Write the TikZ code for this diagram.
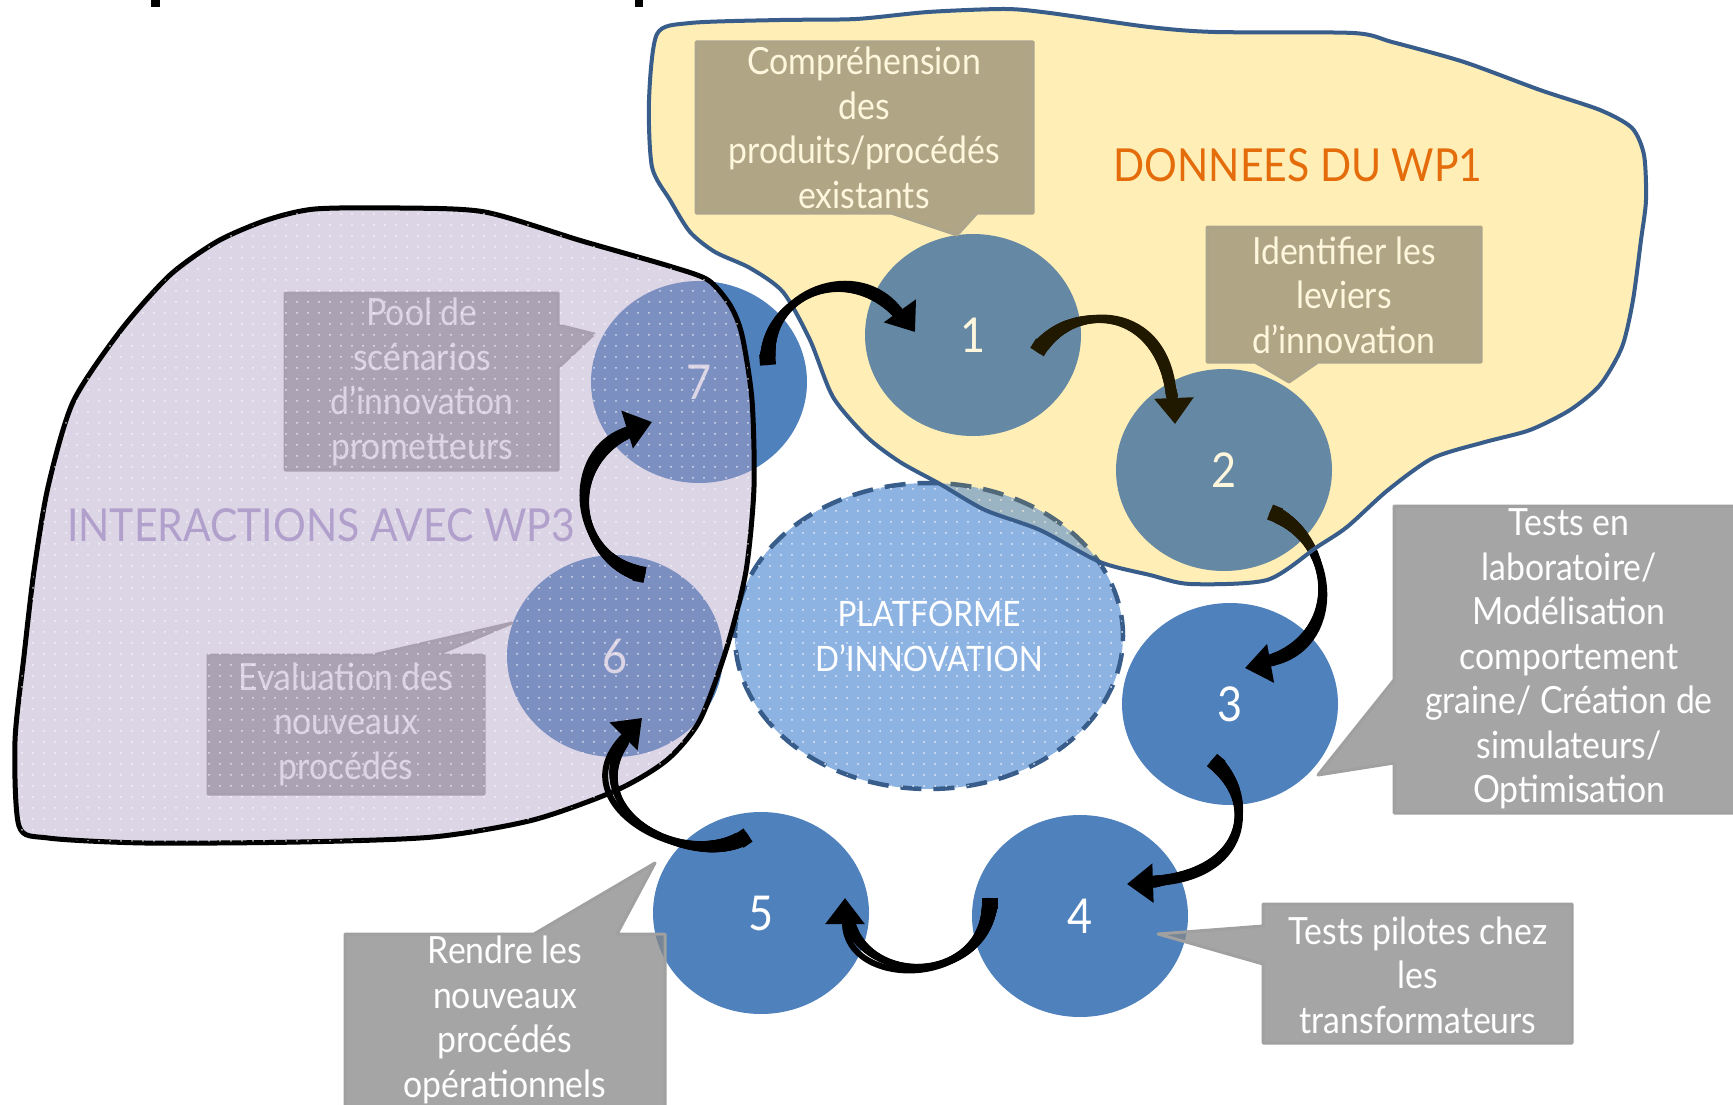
\documentclass[tikz,border=0pt]{standalone}
\usepackage{fontspec}
\newfontfamily\lbl{Lato}[FakeStretch=0.9]
\usetikzlibrary{arrows.meta,shapes.geometric,patterns,decorations.markings,calc}

\definecolor{circblue}{HTML}{4F81BD}
\definecolor{platblue}{HTML}{8DB3E2}
\definecolor{platedge}{HTML}{385D8A}
\definecolor{blobyellow}{HTML}{FFC000}
\definecolor{blobbase}{HTML}{FFF5D0}
\definecolor{blobpurple}{HTML}{B3A2C7}
\definecolor{wpthree}{HTML}{B1A0CC}
\definecolor{wpone}{HTML}{E46C0A}
\definecolor{calloutgrey}{HTML}{878787}
\definecolor{calloutedge}{HTML}{A0A0A0}

% sparse dot texture for the platform and the WP3 area
\pgfdeclarepatternformonly{sparsedots}{\pgfqpoint{-1pt}{-1pt}}{\pgfqpoint{1pt}{1pt}}{\pgfqpoint{11pt}{11pt}}{%
  \pgfpathcircle{\pgfqpoint{0pt}{0pt}}{1pt}\pgfusepath{fill}}

% outline of the WP1 area
\def\wponepath{plot[smooth cycle, tension=0.45] coordinates {
  (657,34) (690,23) (780,20) (856,19) (928,12) (1005,9) (1050,13) (1149,27) (1215,32)
  (1353,33) (1392,42) (1464,62) (1540,90) (1600,110) (1632,128) (1644,155) (1646,200)
  (1641,240) (1633,300) (1622,347) (1600,385) (1570,410) (1530,430) (1485,442) (1433,458)
  (1388,490) (1347,527) (1317,547) (1267,580) (1190,584) (1150,575) (1100,562) (1040,530)
  (985,510) (940,484) (900,462) (867,437) (833,397) (810,340) (783,292) (750,268)
  (715,252) (690,232) (670,200) (652,167) (649,100)}}

\begin{document}
\begin{tikzpicture}[x=1pt,y=-1pt,
  stepdisc/.style={ellipse, fill=circblue, minimum width=216pt, minimum height=202pt,
    inner sep=0pt, text=white, font=\lbl\fontsize{48}{48}\selectfont},
  callout/.style={fill=calloutgrey, fill opacity=0.75, draw=calloutedge, line width=3pt, line join=round},
  callouttext/.style={text=white, align=center, inner sep=0pt,
    font=\lbl\fontsize{37.5}{44.5}\selectfont},
  % curved arrow: thin core plus a swelling body (thick tail, narrow middle)
  flow/.style={line width=6pt, -{Triangle[width=38pt,length=26pt]},
    postaction={decorate, decoration={markings,
      mark=between positions 0.045 and 0.87 step 1.2pt with {%
        \pgfmathsetmacro\arwt{\pgfkeysvalueof{/pgf/decoration/mark info/distance from start}/\pgfdecoratedpathlength}%
        \pgfmathsetmacro\arwr{8.5-0.5*\arwt-5*sin(180*\arwt)}%
        \fill (0,0) circle (\arwr pt);}}}},
  flowtail/.style={line width=16pt},
  bloblabel/.style={inner sep=0pt}
]
\useasboundingbox (0,0) rectangle (1733,1105);
\fill[white] (0,0) rectangle (1733,1105);

% fragments of the heading above the frame
\fill[black] (151,0) rectangle (160,7);
\fill[black] (635,0) rectangle (643,7);

% WP1 area, ground tint
\fill[blobbase] \wponepath;

% the seven steps
\node[stepdisc] (c1) at (973,335) {1};
\node[stepdisc] (c2) at (1224,470) {2};
\node[stepdisc] (c3) at (1230,704) {3};
\node[stepdisc] (c4) at (1080,916) {4};
\node[stepdisc] (c5) at (761,913) {5};
\node[stepdisc] (c6) at (615,656) {6};
\node[stepdisc] (c7) at (699,382) {7};

% innovation platform
\node[ellipse, fill=platblue, draw=platedge, line width=4.5pt, dash pattern=on 21pt off 12pt,
  minimum width=388pt, minimum height=306pt, inner sep=0pt, text=white, align=center,
  font=\lbl\fontsize{35}{45}\selectfont,
  postaction={pattern=sparsedots, pattern color=white!75!platblue}]
  (plat) at (929,636) {PLATFORME\\D’INNOVATION};

% callouts
\draw[callout] (696,42) -- (1033,42) -- (1033,213) -- (977,213) -- (957,235) -- (891,213) -- (696,213) -- cycle;
\node[callouttext] (t1) at (864,128) {Compréhension\\des\\produits/procédés\\existants};

\draw[callout] (1207,227) -- (1481,227) -- (1481,362) -- (1318,362) -- (1289,382) -- (1255,362) -- (1207,362) -- cycle;
\node[callouttext] (t2) at (1344,295) {Identifier les\\leviers\\d’innovation};

\draw[callout] (1394,506) -- (1745,506) -- (1745,813) -- (1394,813) -- (1394,763) -- (1318,775) -- (1394,680) -- cycle;
\node[callouttext] (t3) at (1569,659) {Tests en\\laboratoire/\\Modélisation\\comportement\\graine/ Création de\\simulateurs/\\Optimisation};

\draw[callout] (1263,904) -- (1572,904) -- (1572,1043) -- (1263,1043) -- (1263,964) -- (1158,934) -- (1263,926) -- cycle;
\node[callouttext] (t4) at (1418,975) {Tests pilotes chez\\les\\transformateurs};

\draw[callout] (345,934) -- (534,934) -- (655,863) -- (617,934) -- (665,934) -- (665,1112) -- (345,1112) -- cycle;
\node[callouttext] (t5) at (505,1020) {Rendre les\\nouveaux\\procédés\\opérationnels};

\draw[callout] (208,655) -- (373,655) -- (512,623) -- (436,655) -- (484,655) -- (484,794) -- (208,794) -- cycle;
\node[callouttext] (t6) at (346,724) {Evaluation des\\nouveaux\\procédés};

\draw[callout] (285,293) -- (558,293) -- (558,325) -- (594,334) -- (558,368) -- (558,470) -- (285,470) -- cycle;
\node[callouttext] (t7) at (422,382) {Pool de\\scénarios\\d’innovation\\prometteurs};

% arrow ends and first handles
\coordinate (a12s) at (1037,352);  \coordinate (a12c) at (1070,300);  \coordinate (a12e) at (1175,424);
\coordinate (a23s) at (1270,512);  \coordinate (a23c) at (1340,540);  \coordinate (a23e) at (1245,668);
\coordinate (a34s) at (1212,760);  \coordinate (a34c) at (1260,800);  \coordinate (a34e) at (1127,884);
\coordinate (a45s) at (990,898);   \coordinate (a45c) at (990,990);   \coordinate (a45e) at (845,898);
\coordinate (a56s) at (748,835);   \coordinate (a56c) at (690,875);   \coordinate (a56e) at (642,718);
\coordinate (a67s) at (645,575);   \coordinate (a67c) at (570,560);   \coordinate (a67e) at (652,422);
\coordinate (a71s) at (768,365);   \coordinate (a71c) at (762,290);   \coordinate (a71e) at (915,332);

% arrows lying under the WP1 tint
\draw[flow] (a12s) .. controls (a12c) and (1170,300) .. (a12e);
\draw[flowtail] (a12s) -- ($(a12s)!11pt!(a12c)$);
\draw[flow] (a23s) .. controls (a23c) and (1345,650) .. (a23e);
\draw[flowtail] (a23s) -- ($(a23s)!11pt!(a23c)$);
\draw[flow] (a34s) .. controls (a34c) and (1250,880) .. (a34e);
\draw[flowtail] (a34s) -- ($(a34s)!11pt!(a34c)$);
\draw[flow] (a45s) .. controls (a45c) and (845,990) .. (a45e);
\draw[flowtail] (a45s) -- ($(a45s)!11pt!(a45c)$);

% WP1 area, overlay and outline
\draw[fill=blobyellow, fill opacity=0.13, draw=platedge, line width=4pt, line join=round] \wponepath;

% WP3 area
\draw[fill=blobpurple, fill opacity=0.45, draw=black, line width=5pt, line join=round,
  postaction={pattern=sparsedots, pattern color=white, fill opacity=0.7}]
  plot[smooth cycle, tension=0.45] coordinates {
  (315,209) (400,208) (485,212) (582,241) (669,266) (708,280) (730,305) (742,335)
  (752,400) (754,487) (746,571) (727,647) (700,720) (667,760) (617,790) (533,820)
  (433,837) (300,842) (145,843) (48,838) (19,826) (15,741) (24,656) (34,571)
  (48,487) (73,402) (121,330) (170,275) (218,241) (267,220)};

% arrows drawn above the areas
\draw[flow] (a56s) .. controls (a56c) and (555,805) .. (a56e);
\draw[flowtail] (a56s) -- ($(a56s)!11pt!(a56c)$);
\draw[flow] (a67s) .. controls (a67c) and (560,450) .. (a67e);
\draw[flowtail] (a67s) -- ($(a67s)!11pt!(a67c)$);
\draw[flow] (a71s) .. controls (a71c) and (860,255) .. (a71e);
\draw[flowtail] (a71s) -- ($(a71s)!11pt!(a71c)$);

% area titles
\node[bloblabel, text=wpone, font=\lbl\fontsize{45.5}{46}\selectfont] (wp1) at (1298,165) {DONNEES DU WP1};
\node[bloblabel, text=wpthree, font=\lbl\fontsize{45.5}{46}\selectfont] (wp3) at (321,525) {INTERACTIONS AVEC WP3};
\end{tikzpicture}
\end{document}
